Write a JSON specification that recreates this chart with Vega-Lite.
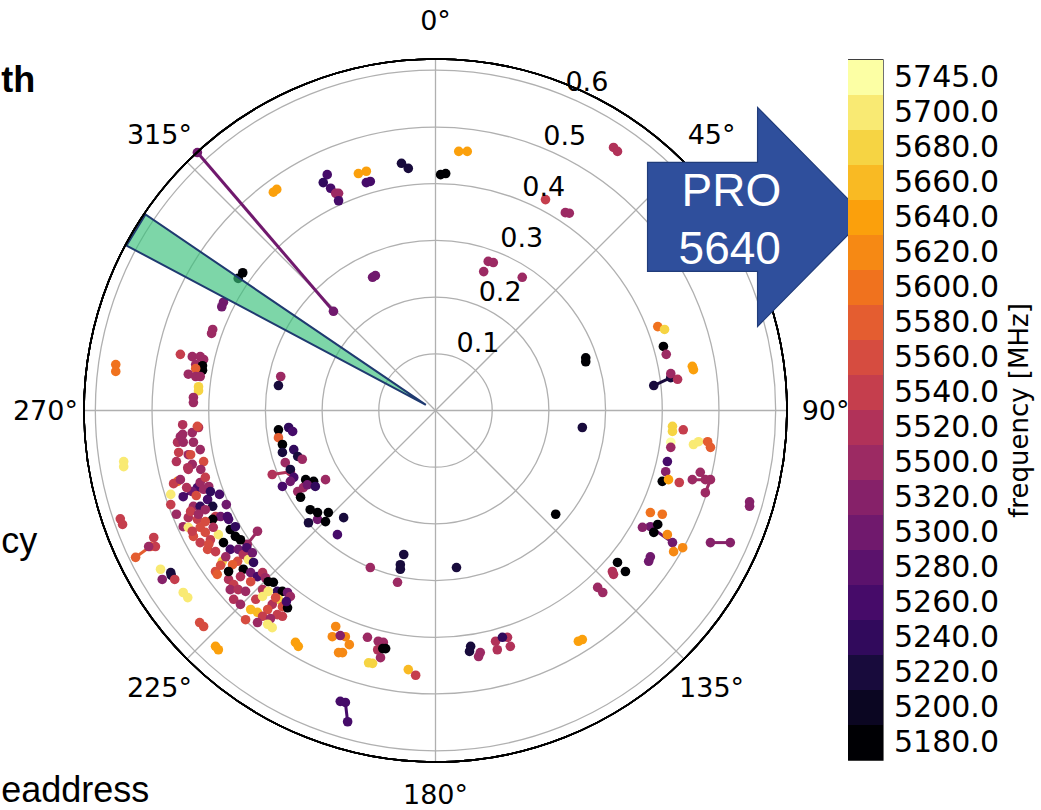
{
  "$schema": "https://vega.github.io/schema/vega-lite/v6.json",
  "width": 703,
  "height": 703,
  "autosize": "none",
  "padding": {"left": 84, "top": 59, "right": 254, "bottom": 48},
  "background": "white",
  "config": {"view": {"stroke": null}, "font": "DejaVu Sans"},
  "datasets": {
    "rings": [{"x":0,"y":0,"r":0.1},{"x":0,"y":0,"r":0.2},{"x":0,"y":0,"r":0.3},{"x":0,"y":0,"r":0.4},{"x":0,"y":0,"r":0.5},{"x":0,"y":0,"r":0.6}],
    "spokes": [{"id":"a","x":0,"y":0},{"id":"a","x":0,"y":0.62},{"id":"b","x":0,"y":0},{"id":"b","x":0.4384,"y":0.4384},{"id":"c","x":0,"y":0},{"id":"c","x":0.62,"y":0},{"id":"d","x":0,"y":0},{"id":"d","x":0.4384,"y":-0.4384},{"id":"e","x":0,"y":0},{"id":"e","x":0,"y":-0.62},{"id":"f","x":0,"y":0},{"id":"f","x":-0.4384,"y":-0.4384},{"id":"g","x":0,"y":0},{"id":"g","x":-0.62,"y":0},{"id":"h","x":0,"y":0},{"id":"h","x":-0.4384,"y":0.4384}],
    "wedge": [{"x":-0.545,"y":0.291,"y2":0.291},{"x":-0.5116,"y":0.3457,"y2":0.2732},{"x":-0.017,"y":0.010,"y2":0.010}],
    "rlab": [{"t":"0.1","x":0.075,"y":0.103},{"t":"0.2","x":0.114,"y":0.193},{"t":"0.3","x":0.152,"y":0.288},{"t":"0.4","x":0.191,"y":0.378},{"t":"0.5","x":0.228,"y":0.469},{"t":"0.6","x":0.267,"y":0.563}],
    "alab": [{"t":"0°","x":0,"y":0.6706},{"t":"45°","x":0.487,"y":0.4694},{"t":"90°","x":0.688,"y":-0.0176},{"t":"135°","x":0.487,"y":-0.5047},{"t":"180°","x":0,"y":-0.694},{"t":"225°","x":-0.487,"y":-0.5047},{"t":"270°","x":-0.688,"y":-0.0176},{"t":"315°","x":-0.487,"y":0.4694}],
    "trk": [
      {"id":1,"o":1,"x":-0.420,"y":0.455,"f":5300},{"id":1,"o":2,"x":-0.180,"y":0.175,"f":5300},
      {"id":2,"o":1,"x":-0.529,"y":-0.259,"f":5580},{"id":2,"o":2,"x":-0.503,"y":-0.240,"f":5580},
      {"id":3,"o":1,"x":-0.288,"y":-0.113,"f":5520},{"id":3,"o":2,"x":-0.256,"y":-0.108,"f":5520},
      {"id":4,"o":1,"x":-0.168,"y":-0.513,"f":5260},{"id":4,"o":2,"x":-0.159,"y":-0.515,"f":5260},{"id":4,"o":3,"x":-0.155,"y":-0.549,"f":5260},
      {"id":5,"o":1,"x":0.379,"y":-0.205,"f":5300},{"id":5,"o":2,"x":0.418,"y":-0.233,"f":5300},
      {"id":6,"o":1,"x":0.485,"y":-0.233,"f":5320},{"id":6,"o":2,"x":0.520,"y":-0.233,"f":5320},
      {"id":7,"o":1,"x":0.385,"y":0.044,"f":5220},{"id":7,"o":2,"x":0.415,"y":0.058,"f":5220},
      {"id":8,"o":1,"x":0.453,"y":-0.122,"f":5500},{"id":8,"o":2,"x":0.485,"y":-0.122,"f":5500},{"id":8,"o":3,"x":0.476,"y":-0.145,"f":5500},
      {"id":9,"o":1,"x":0.467,"y":-0.109,"f":5500},{"id":9,"o":2,"x":0.476,"y":-0.122,"f":5500},
      {"id":10,"o":1,"x":-0.314,"y":-0.213,"f":5500},{"id":10,"o":2,"x":-0.332,"y":-0.236,"f":5500},
      {"id":11,"o":1,"x":-0.445,"y":-0.152,"f":5260},{"id":11,"o":2,"x":-0.420,"y":-0.136,"f":5260}
    ],
    "pts": [
      {"x":0.041,"y":0.457,"f":5640},{"x":0.056,"y":0.457,"f":5640},{"x":0.018,"y":0.418,"f":5180},{"x":0.009,"y":0.416,"f":5180},{"x":-0.060,"y":0.436,"f":5220},{"x":-0.048,"y":0.427,"f":5220},{"x":-0.136,"y":0.418,"f":5640},{"x":-0.122,"y":0.422,"f":5640},{"x":-0.122,"y":0.402,"f":5260},{"x":-0.115,"y":0.404,"f":5260},{"x":-0.191,"y":0.416,"f":5260},{"x":-0.198,"y":0.402,"f":5240},{"x":-0.185,"y":0.392,"f":5260},{"x":-0.176,"y":0.383,"f":5500},{"x":-0.171,"y":0.383,"f":5500},{"x":-0.171,"y":0.370,"f":5260},
      {"x":0.093,"y":0.263,"f":5500},{"x":0.102,"y":0.261,"f":5500},{"x":0.085,"y":0.245,"f":5500},{"x":0.153,"y":0.235,"f":5500},{"x":-0.111,"y":0.235,"f":5300},{"x":-0.106,"y":0.238,"f":5300},{"x":0.194,"y":0.372,"f":5540},{"x":0.229,"y":0.349,"f":5500},{"x":0.236,"y":0.348,"f":5500},{"x":0.314,"y":0.464,"f":5520},{"x":0.321,"y":0.457,"f":5520},{"x":-0.286,"y":0.385,"f":5640},{"x":-0.280,"y":0.390,"f":5640},{"x":-0.340,"y":0.243,"f":5180},{"x":-0.348,"y":0.233,"f":5180},
      {"x":-0.374,"y":0.191,"f":5300},{"x":-0.377,"y":0.183,"f":5300},{"x":-0.393,"y":0.143,"f":5500},{"x":-0.395,"y":0.136,"f":5500},{"x":-0.450,"y":0.099,"f":5540},{"x":-0.429,"y":0.095,"f":5500},{"x":-0.415,"y":0.095,"f":5500},{"x":-0.409,"y":0.090,"f":5500},{"x":-0.423,"y":0.081,"f":5500},{"x":-0.411,"y":0.079,"f":5180},{"x":-0.411,"y":0.071,"f":5180},{"x":-0.423,"y":0.074,"f":5580},{"x":-0.436,"y":0.064,"f":5500},{"x":-0.423,"y":0.060,"f":5500},{"x":-0.415,"y":0.060,"f":5500},{"x":-0.418,"y":0.042,"f":5680},{"x":-0.418,"y":0.035,"f":5680},{"x":-0.427,"y":0.023,"f":5500},{"x":-0.427,"y":0.014,"f":5500},{"x":-0.564,"y":0.081,"f":5600},{"x":-0.564,"y":0.069,"f":5600},{"x":-0.273,"y":0.060,"f":5500},{"x":-0.277,"y":0.044,"f":5220},{"x":-0.550,"y":-0.090,"f":5700},{"x":-0.550,"y":-0.099,"f":5700},{"x":-0.556,"y":-0.191,"f":5540},{"x":-0.552,"y":-0.201,"f":5540},
      {"x":-0.418,"y":-0.030,"f":5520},{"x":-0.429,"y":-0.039,"f":5500},{"x":-0.446,"y":-0.042,"f":5500},{"x":-0.455,"y":-0.056,"f":5520},{"x":-0.445,"y":-0.056,"f":5500},{"x":-0.427,"y":-0.056,"f":5500},{"x":-0.415,"y":-0.069,"f":5500},{"x":-0.453,"y":-0.074,"f":5540},{"x":-0.436,"y":-0.078,"f":5500},{"x":-0.409,"y":-0.090,"f":5560},{"x":-0.429,"y":-0.095,"f":5500},{"x":-0.437,"y":-0.101,"f":5520},{"x":-0.420,"y":-0.028,"f":5560},{"x":-0.450,"y":-0.046,"f":5500},
      {"x":-0.455,"y":-0.125,"f":5600},{"x":-0.462,"y":-0.129,"f":5540},{"x":-0.467,"y":-0.148,"f":5700},{"x":-0.429,"y":-0.143,"f":5300},{"x":-0.415,"y":-0.127,"f":5500},{"x":-0.409,"y":-0.139,"f":5500},{"x":-0.400,"y":-0.134,"f":5500},{"x":-0.427,"y":-0.169,"f":5500},{"x":-0.415,"y":-0.169,"f":5240},{"x":-0.402,"y":-0.157,"f":5260},{"x":-0.393,"y":-0.169,"f":5220},{"x":-0.406,"y":-0.175,"f":5500},{"x":-0.388,"y":-0.187,"f":5540},{"x":-0.379,"y":-0.187,"f":5300},{"x":-0.436,"y":-0.189,"f":5520},{"x":-0.420,"y":-0.192,"f":5540},{"x":-0.445,"y":-0.205,"f":5500},{"x":-0.436,"y":-0.206,"f":5700},{"x":-0.393,"y":-0.192,"f":5180},{"x":-0.367,"y":-0.187,"f":5260},{"x":-0.362,"y":-0.210,"f":5180},{"x":-0.353,"y":-0.222,"f":5180},{"x":-0.415,"y":-0.206,"f":5560},{"x":-0.406,"y":-0.215,"f":5560},{"x":-0.427,"y":-0.222,"f":5560},{"x":-0.415,"y":-0.233,"f":5540},{"x":-0.397,"y":-0.228,"f":5540},{"x":-0.383,"y":-0.219,"f":5700},{"x":-0.402,"y":-0.245,"f":5560},{"x":-0.374,"y":-0.233,"f":5180},{"x":-0.362,"y":-0.245,"f":5260},{"x":-0.348,"y":-0.245,"f":5300},{"x":-0.349,"y":-0.266,"f":5560},{"x":-0.358,"y":-0.272,"f":5580},{"x":-0.376,"y":-0.266,"f":5680},{"x":-0.339,"y":-0.254,"f":5520},{"x":-0.332,"y":-0.258,"f":5520},{"x":-0.330,"y":-0.263,"f":5700},{"x":-0.321,"y":-0.268,"f":5240},{"x":-0.339,"y":-0.280,"f":5180},{"x":-0.326,"y":-0.286,"f":5300},{"x":-0.314,"y":-0.293,"f":5260},{"x":-0.305,"y":-0.286,"f":5520},{"x":-0.300,"y":-0.295,"f":5500},{"x":-0.295,"y":-0.302,"f":5180},{"x":-0.286,"y":-0.303,"f":5180},{"x":-0.388,"y":-0.284,"f":5560},{"x":-0.385,"y":-0.289,"f":5580},{"x":-0.365,"y":-0.298,"f":5520},{"x":-0.356,"y":-0.307,"f":5540},{"x":-0.362,"y":-0.316,"f":5500},{"x":-0.348,"y":-0.316,"f":5520},{"x":-0.335,"y":-0.319,"f":5500},{"x":-0.326,"y":-0.302,"f":5560},{"x":-0.305,"y":-0.316,"f":5520},{"x":-0.279,"y":-0.319,"f":5240},{"x":-0.270,"y":-0.319,"f":5180},{"x":-0.261,"y":-0.321,"f":5300},{"x":-0.256,"y":-0.328,"f":5500},{"x":-0.277,"y":-0.333,"f":5680},{"x":-0.288,"y":-0.342,"f":5520},{"x":-0.296,"y":-0.351,"f":5560},{"x":-0.270,"y":-0.346,"f":5560},{"x":-0.261,"y":-0.348,"f":5180},{"x":-0.326,"y":-0.351,"f":5660},{"x":-0.314,"y":-0.356,"f":5660},{"x":-0.305,"y":-0.363,"f":5540},{"x":-0.279,"y":-0.360,"f":5540},{"x":-0.270,"y":-0.363,"f":5540},
      {"x":-0.450,"y":-0.122,"f":5500},{"x":-0.439,"y":-0.136,"f":5520},{"x":-0.422,"y":-0.150,"f":5560},{"x":-0.432,"y":-0.178,"f":5540},{"x":-0.418,"y":-0.183,"f":5500},{"x":-0.406,"y":-0.196,"f":5560},{"x":-0.392,"y":-0.206,"f":5520},{"x":-0.429,"y":-0.213,"f":5540},{"x":-0.400,"y":-0.236,"f":5560},{"x":-0.388,"y":-0.249,"f":5540},{"x":-0.370,"y":-0.258,"f":5500},{"x":-0.379,"y":-0.273,"f":5560},{"x":-0.365,"y":-0.284,"f":5180},{"x":-0.344,"y":-0.293,"f":5520},{"x":-0.356,"y":-0.333,"f":5520},{"x":-0.344,"y":-0.342,"f":5500},{"x":-0.317,"y":-0.333,"f":5540},{"x":-0.305,"y":-0.328,"f":5700},{"x":-0.295,"y":-0.319,"f":5700},{"x":-0.282,"y":-0.330,"f":5560},{"x":-0.263,"y":-0.337,"f":5260},{"x":-0.314,"y":-0.374,"f":5500},{"x":-0.291,"y":-0.367,"f":5500},{"x":-0.335,"y":-0.369,"f":5560},{"x":-0.365,"y":-0.192,"f":5260},{"x":-0.353,"y":-0.205,"f":5240},{"x":-0.344,"y":-0.228,"f":5180},{"x":-0.333,"y":-0.242,"f":5260},{"x":-0.323,"y":-0.251,"f":5300},{"x":-0.369,"y":-0.166,"f":5300},{"x":-0.381,"y":-0.148,"f":5260},{"x":-0.397,"y":-0.143,"f":5240},{"x":-0.436,"y":-0.104,"f":5520},{"x":-0.414,"y":-0.104,"f":5500},{"x":-0.406,"y":-0.118,"f":5540},{"x":-0.446,"y":-0.025,"f":5520},{"x":-0.432,"y":-0.078,"f":5560},{"x":-0.457,"y":-0.090,"f":5520},{"x":-0.467,"y":-0.166,"f":5540},{"x":-0.457,"y":-0.183,"f":5500},
      {"x":-0.497,"y":-0.224,"f":5540},{"x":-0.494,"y":-0.240,"f":5540},{"x":-0.485,"y":-0.280,"f":5700},{"x":-0.467,"y":-0.286,"f":5220},{"x":-0.466,"y":-0.291,"f":5220},{"x":-0.482,"y":-0.298,"f":5320},{"x":-0.460,"y":-0.298,"f":5540},{"x":-0.445,"y":-0.321,"f":5700},{"x":-0.437,"y":-0.330,"f":5700},{"x":-0.416,"y":-0.374,"f":5560},{"x":-0.409,"y":-0.381,"f":5560},{"x":-0.388,"y":-0.416,"f":5640},{"x":-0.383,"y":-0.422,"f":5640},{"x":-0.247,"y":-0.409,"f":5640},{"x":-0.242,"y":-0.416,"f":5640},{"x":-0.296,"y":-0.377,"f":5700},{"x":-0.288,"y":-0.383,"f":5700},{"x":-0.506,"y":-0.240,"f":5500},
      {"x":-0.277,"y":-0.034,"f":5180},{"x":-0.259,"y":-0.030,"f":5240},{"x":-0.252,"y":-0.037,"f":5260},{"x":-0.277,"y":-0.048,"f":5580},{"x":-0.270,"y":-0.060,"f":5180},{"x":-0.270,"y":-0.074,"f":5220},{"x":-0.250,"y":-0.069,"f":5240},{"x":-0.243,"y":-0.081,"f":5220},{"x":-0.265,"y":-0.092,"f":5500},{"x":-0.235,"y":-0.086,"f":5500},{"x":-0.256,"y":-0.104,"f":5220},{"x":-0.250,"y":-0.118,"f":5260},{"x":-0.270,"y":-0.134,"f":5260},{"x":-0.256,"y":-0.125,"f":5300},{"x":-0.229,"y":-0.122,"f":5180},{"x":-0.215,"y":-0.125,"f":5180},{"x":-0.243,"y":-0.143,"f":5500},{"x":-0.233,"y":-0.136,"f":5500},{"x":-0.238,"y":-0.153,"f":5180},{"x":-0.226,"y":-0.131,"f":5300},{"x":-0.212,"y":-0.134,"f":5240},{"x":-0.221,"y":-0.175,"f":5180},{"x":-0.224,"y":-0.198,"f":5220},{"x":-0.208,"y":-0.192,"f":5300},{"x":-0.194,"y":-0.122,"f":5500},{"x":-0.208,"y":-0.180,"f":5180},{"x":-0.194,"y":-0.196,"f":5180},{"x":-0.189,"y":-0.180,"f":5180},{"x":-0.162,"y":-0.189,"f":5220},{"x":-0.173,"y":-0.219,"f":5260},
      {"x":-0.115,"y":-0.277,"f":5500},{"x":-0.056,"y":-0.254,"f":5220},{"x":-0.062,"y":-0.272,"f":5220},{"x":-0.062,"y":-0.280,"f":5220},{"x":-0.067,"y":-0.303,"f":5500},{"x":0.037,"y":-0.277,"f":5220},{"x":-0.176,"y":-0.381,"f":5620},{"x":-0.182,"y":-0.399,"f":5620},{"x":-0.159,"y":-0.399,"f":5620},{"x":-0.152,"y":-0.413,"f":5620},{"x":-0.164,"y":-0.427,"f":5620},{"x":-0.171,"y":-0.427,"f":5620},{"x":-0.168,"y":-0.397,"f":5320},{"x":-0.120,"y":-0.400,"f":5500},{"x":-0.101,"y":-0.407,"f":5500},{"x":-0.092,"y":-0.409,"f":5500},{"x":-0.102,"y":-0.422,"f":5520},{"x":-0.097,"y":-0.436,"f":5500},{"x":-0.093,"y":-0.420,"f":5180},{"x":-0.088,"y":-0.420,"f":5180},{"x":-0.118,"y":-0.445,"f":5680},{"x":-0.111,"y":-0.446,"f":5680},{"x":-0.048,"y":-0.457,"f":5660},{"x":-0.035,"y":-0.467,"f":5540},{"x":0.062,"y":-0.416,"f":5220},{"x":0.060,"y":-0.425,"f":5220},{"x":0.079,"y":-0.427,"f":5500},{"x":0.076,"y":-0.434,"f":5500},{"x":0.106,"y":-0.407,"f":5520},{"x":0.109,"y":-0.422,"f":5520},{"x":0.127,"y":-0.400,"f":5520},{"x":0.132,"y":-0.416,"f":5520},{"x":0.118,"y":-0.400,"f":5240},
      {"x":0.212,"y":-0.183,"f":5180},{"x":0.379,"y":-0.180,"f":5600},{"x":0.400,"y":-0.183,"f":5600},{"x":0.365,"y":-0.206,"f":5320},{"x":0.392,"y":-0.201,"f":5180},{"x":0.385,"y":-0.215,"f":5180},{"x":0.409,"y":-0.219,"f":5620},{"x":0.420,"y":-0.249,"f":5620},{"x":0.436,"y":-0.242,"f":5620},{"x":0.379,"y":-0.258,"f":5300},{"x":0.376,"y":-0.266,"f":5300},{"x":0.321,"y":-0.268,"f":5180},{"x":0.335,"y":-0.284,"f":5180},{"x":0.312,"y":-0.284,"f":5520},{"x":0.314,"y":-0.289,"f":5520},{"x":0.286,"y":-0.312,"f":5500},{"x":0.295,"y":-0.321,"f":5500},{"x":0.252,"y":-0.407,"f":5640},{"x":0.259,"y":-0.404,"f":5640},{"x":0.554,"y":-0.161,"f":5320},{"x":0.554,"y":-0.169,"f":5320},
      {"x":0.265,"y":0.093,"f":5180},{"x":0.265,"y":0.086,"f":5180},{"x":0.259,"y":-0.030,"f":5220},{"x":0.392,"y":0.148,"f":5600},{"x":0.404,"y":0.143,"f":5680},{"x":0.402,"y":0.113,"f":5180},{"x":0.407,"y":0.099,"f":5500},{"x":0.453,"y":0.078,"f":5640},{"x":0.455,"y":0.072,"f":5640},{"x":0.415,"y":0.065,"f":5500},{"x":0.427,"y":0.055,"f":5520},{"x":0.418,"y":-0.028,"f":5680},{"x":0.418,"y":-0.037,"f":5680},{"x":0.437,"y":-0.034,"f":5540},{"x":0.415,"y":-0.056,"f":5745},{"x":0.415,"y":-0.065,"f":5500},{"x":0.455,"y":-0.060,"f":5700},{"x":0.464,"y":-0.055,"f":5700},{"x":0.480,"y":-0.055,"f":5580},{"x":0.485,"y":-0.065,"f":5580},{"x":0.409,"y":-0.090,"f":5260},{"x":0.406,"y":-0.108,"f":5320},{"x":0.400,"y":-0.125,"f":5180},{"x":0.411,"y":-0.122,"f":5640},{"x":0.430,"y":-0.127,"f":5540}
    ],
    "cbframe": [{"x":0.729,"x2":0.789,"y":0.6182,"y2":-0.6163}],
    "arrow": [{"x":0.374,"y":0.4376,"y2":0.2453},{"x":0.568,"y":0.4376,"y2":0.2453},{"x":0.5681,"y":0.5347,"y2":0.1482},{"x":0.7588,"y":0.3415,"y2":0.3415}],
    "arrowtxt": [{"t":"PRO","x":0.522,"y":0.360},{"t":"5640","x":0.519,"y":0.2576}],
    "crop": [{"t":"cy","x":-0.766,"y":-0.2506},{"t":"eaddress","x":-0.766,"y":-0.690}],
    "cropb": [{"t":"th","x":-0.766,"y":0.561}],
    "cbtitle": [{"t":"frequency [MHz]","x":1.031,"y":0.0}]
  },
  "encoding": {
    "x": {"field": "x", "type": "quantitative", "scale": {"domain": [-0.62, 0.62], "nice": false, "zero": false}, "axis": null},
    "y": {"field": "y", "type": "quantitative", "scale": {"domain": [-0.62, 0.62], "nice": false, "zero": false}, "axis": null}
  },
  "layer": [
    {
      "data": {"name": "rings"},
      "mark": {"type": "point", "shape": "circle", "filled": false, "color": "#b0b0b0", "strokeWidth": 1.3, "opacity": 1},
      "encoding": {
        "size": {"field": "r", "type": "quantitative", "scale": {"type": "pow", "exponent": 2, "domain": [0, 0.62], "range": [0, 494209], "zero": true}, "legend": null}
      }
    },
    {
      "data": {"name": "spokes"},
      "mark": {"type": "line", "color": "#b0b0b0", "strokeWidth": 1.3},
      "encoding": {
        "detail": {"field": "id", "type": "nominal"}
      }
    },
    {
      "data": {"name": "trk"},
      "mark": {"type": "line", "strokeWidth": 3},
      "encoding": {
        "detail": {"field": "id", "type": "nominal"},
        "order": {"field": "o", "type": "quantitative"},
        "color": {"field": "f", "type": "ordinal",
          "scale": {"domain": [5745,5700,5680,5660,5640,5620,5600,5580,5560,5540,5520,5500,5320,5300,5280,5260,5240,5220,5200,5180],
                    "range": ["#fcffa4","#f9ea73","#f6d443","#f9ba23","#fba00c","#f68914","#f0721e","#e45d30","#d64c40","#c53e4d","#b13259","#9c2a63","#862169","#70196d","#5b126c","#460b69","#310a5c","#180b3c","#0b0622","#000004"]},
          "legend": {"orient": "none", "legendX": 764, "legendY": 1, "direction": "vertical", "title": null, "symbolType": "square", "symbolSize": 1225, "symbolStrokeWidth": 0, "symbolOpacity": 1, "symbolLimit": 40, "rowPadding": 0, "padding": 0, "offset": 0, "labelOffset": 11, "labelFontSize": 30, "labelFont": "DejaVu Sans", "labelColor": "black", "labelExpr": "format(datum.value, '.1f')"}}
      }
    },
    {
      "data": {"name": "trk"},
      "mark": {"type": "circle", "size": 92, "opacity": 1},
      "encoding": {
        "color": {"field": "f", "type": "ordinal",
          "legend": {"orient": "none", "legendX": 764, "legendY": 1, "direction": "vertical", "title": null, "symbolType": "square", "symbolSize": 1225, "symbolStrokeWidth": 0, "symbolOpacity": 1, "symbolLimit": 40, "rowPadding": 0, "padding": 0, "offset": 0, "labelOffset": 11, "labelFontSize": 30, "labelFont": "DejaVu Sans", "labelColor": "black", "labelExpr": "format(datum.value, '.1f')"}}
      }
    },
    {
      "data": {"name": "pts"},
      "mark": {"type": "circle", "size": 92, "opacity": 1},
      "encoding": {
        "color": {"field": "f", "type": "ordinal",
          "legend": {"orient": "none", "legendX": 764, "legendY": 1, "direction": "vertical", "title": null, "symbolType": "square", "symbolSize": 1225, "symbolStrokeWidth": 0, "symbolOpacity": 1, "symbolLimit": 40, "rowPadding": 0, "padding": 0, "offset": 0, "labelOffset": 11, "labelFontSize": 30, "labelFont": "DejaVu Sans", "labelColor": "black", "labelExpr": "format(datum.value, '.1f')"}}
      }
    },
    {
      "data": {"name": "wedge"},
      "mark": {"type": "area", "fill": "#37c079", "fillOpacity": 0.65, "stroke": "#1f3a70", "strokeWidth": 2},
      "encoding": {
        "y2": {"field": "y2"}
      }
    },
    {
      "data": {"name": "rings"},
      "mark": {"type": "point", "shape": "circle", "filled": false, "color": "black", "strokeWidth": 1.6, "opacity": 1, "size": 494209}
    },
    {
      "data": {"name": "rlab"},
      "mark": {"type": "text", "fontSize": 27, "font": "DejaVu Sans", "align": "center", "baseline": "alphabetic", "color": "black"},
      "encoding": {"text": {"field": "t", "type": "nominal"}}
    },
    {
      "data": {"name": "alab"},
      "mark": {"type": "text", "fontSize": 27, "font": "DejaVu Sans", "align": "center", "baseline": "alphabetic", "color": "black"},
      "encoding": {"text": {"field": "t", "type": "nominal"}}
    },
    {
      "data": {"name": "cbframe"},
      "mark": {"type": "rect", "filled": false, "color": "black", "strokeWidth": 1.5},
      "encoding": {
        "x2": {"field": "x2"},
        "y2": {"field": "y2"}
      }
    },
    {
      "data": {"name": "cbtitle"},
      "mark": {"type": "text", "font": "DejaVu Sans", "fontSize": 26, "angle": 270, "align": "center", "baseline": "middle", "color": "black"},
      "encoding": {"text": {"field": "t", "type": "nominal"}}
    },
    {
      "data": {"name": "arrow"},
      "mark": {"type": "area", "fill": "#2f4f9c", "stroke": "#203c7a", "strokeWidth": 1.2, "opacity": 1},
      "encoding": {
        "y2": {"field": "y2"}
      }
    },
    {
      "data": {"name": "arrowtxt"},
      "mark": {"type": "text", "font": "Liberation Sans", "fontSize": 46, "align": "center", "baseline": "alphabetic", "color": "white"},
      "encoding": {"text": {"field": "t", "type": "nominal"}}
    },
    {
      "data": {"name": "crop"},
      "mark": {"type": "text", "font": "Liberation Sans", "fontSize": 36, "align": "left", "baseline": "alphabetic", "color": "black"},
      "encoding": {"text": {"field": "t", "type": "nominal"}}
    },
    {
      "data": {"name": "cropb"},
      "mark": {"type": "text", "font": "Liberation Sans", "fontSize": 36, "fontWeight": "bold", "align": "left", "baseline": "alphabetic", "color": "black"},
      "encoding": {"text": {"field": "t", "type": "nominal"}}
    }
  ]
}
